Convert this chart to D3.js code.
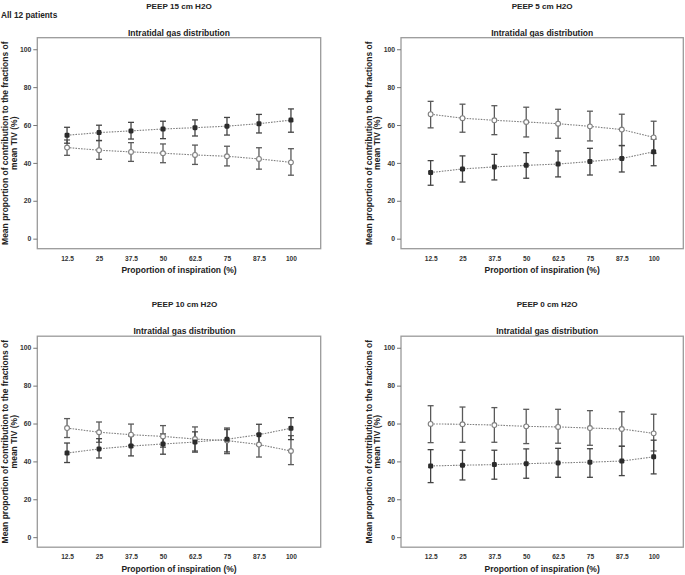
<!DOCTYPE html>
<html><head><meta charset="utf-8">
<script src="https://cdn.jsdelivr.net/npm/d3@7"></script>
<style>
body{margin:0;background:#fff}
svg{display:block}
text{font-family:"Liberation Sans",Arial,sans-serif;font-weight:bold;fill:#222}
</style>
</head><body>
<svg id="chart" width="685" height="575"></svg>
<script>
// ---- data ----
const categories = ["12.5","25","37.5","50","62.5","75","87.5","100"];
const yTicks = [0, 20, 40, 60, 80, 100];
const panelTitles = ["PEEP 15 cm H2O", "PEEP 5 cm H2O", "PEEP 10 cm H2O", "PEEP 0 cm H2O"];
const subTitle = "Intratidal gas distribution";
const topNote = "All 12 patients";
const xLabel = "Proportion of inspiration (%)";
const yLabelLines = ["Mean proportion of contribution to the fractions of", "mean TIV (%)"];

// PEEP 15
const peep15DarkMean = [54.6, 56.0, 56.9, 57.9, 58.6, 59.4, 60.7, 62.6];
const peep15DarkHigh = [58.8, 59.9, 61.4, 62.0, 62.7, 64.0, 65.6, 68.5];
const peep15DarkLow  = [50.4, 51.8, 52.6, 52.8, 54.2, 54.7, 55.8, 56.2];
const peep15OpenMean = [48.1, 46.7, 45.8, 45.1, 44.2, 43.5, 42.1, 40.3];
const peep15OpenHigh = [52.1, 51.8, 50.7, 50.0, 49.4, 48.8, 48.0, 47.5];
const peep15OpenLow  = [44.0, 41.9, 40.8, 40.1, 39.2, 38.4, 36.7, 33.5];
// PEEP 5
const peep5OpenMean = [65.7, 63.6, 62.5, 61.6, 60.7, 59.3, 57.6, 53.5];
const peep5OpenHigh = [72.5, 71.0, 70.2, 69.4, 68.3, 67.3, 65.7, 62.0];
const peep5OpenLow  = [58.5, 56.2, 54.9, 53.7, 53.0, 51.6, 49.1, 45.1];
const peep5DarkMean = [34.9, 36.8, 37.9, 38.7, 39.4, 40.7, 42.3, 45.9];
const peep5DarkHigh = [41.2, 43.7, 44.5, 45.4, 46.3, 47.7, 49.2, 52.6];
const peep5DarkLow  = [28.2, 29.9, 31.0, 31.9, 32.6, 33.6, 35.2, 38.5];
// PEEP 10
const peep10OpenMean = [57.6, 55.4, 54.1, 53.2, 51.8, 51.0, 48.9, 45.5];
const peep10OpenHigh = [62.6, 60.8, 59.7, 58.9, 58.2, 56.8, 54.5, 53.6];
const peep10OpenLow  = [52.6, 50.1, 48.5, 47.5, 45.5, 44.1, 42.3, 38.3];
const peep10DarkMean = [44.4, 46.6, 48.1, 49.2, 50.2, 51.7, 54.1, 57.5];
const peep10DarkHigh = [49.7, 52.0, 53.5, 54.5, 55.6, 57.6, 59.6, 63.1];
const peep10DarkLow  = [39.4, 41.8, 42.9, 43.8, 44.9, 45.0, 48.5, 51.5];
// PEEP 0
const peep0OpenMean = [59.8, 59.6, 59.2, 58.5, 58.2, 57.6, 57.1, 54.8];
const peep0OpenHigh = [69.4, 68.7, 68.4, 67.5, 67.5, 66.8, 66.2, 64.9];
const peep0OpenLow  = [49.9, 50.1, 50.1, 49.4, 49.6, 48.5, 48.0, 45.5];
const peep0DarkMean = [37.6, 38.0, 38.3, 38.8, 39.2, 39.6, 40.2, 42.4];
const peep0DarkHigh = [46.2, 45.9, 45.9, 46.6, 46.9, 46.7, 48.0, 51.2];
const peep0DarkLow  = [28.8, 30.2, 30.6, 31.1, 31.6, 31.6, 32.5, 33.4];

// ---- layout ----
const panels = [
  {title: panelTitles[0], x0: 37.3, x1: 320.7, y0: 37.7, titleDx: 0,
   dark: [peep15DarkMean, peep15DarkLow, peep15DarkHigh], open: [peep15OpenMean, peep15OpenLow, peep15OpenHigh], note: true},
  {title: panelTitles[1], x0: 401, x1: 683.3, y0: 37.7, titleDx: 0,
   dark: [peep5DarkMean, peep5DarkLow, peep5DarkHigh], open: [peep5OpenMean, peep5OpenLow, peep5OpenHigh]},
  {title: panelTitles[2], x0: 37.3, x1: 320.7, y0: 336.2, titleDx: 5.5,
   dark: [peep10DarkMean, peep10DarkLow, peep10DarkHigh], open: [peep10OpenMean, peep10OpenLow, peep10OpenHigh]},
  {title: panelTitles[3], x0: 401, x1: 683.3, y0: 336.2, titleDx: 5,
   dark: [peep0DarkMean, peep0DarkLow, peep0DarkHigh], open: [peep0OpenMean, peep0OpenLow, peep0OpenHigh]}
];
const frameH = 211;

const svg = d3.select("#chart");

panels.forEach(p => {
  const g = svg.append("g");
  const y1 = p.y0 + frameH;
  const x = d3.scalePoint().domain(categories).range([p.x0, p.x1]).padding(0.93);
  const y = d3.scaleLinear().domain([-5.3, 106.1]).range([y1, p.y0]);
  const cx = (p.x0 + p.x1) / 2;

  // titles
  g.append("text").attr("x", cx + p.titleDx).attr("y", p.y0 - 29.2)
    .attr("text-anchor", "middle").style("font-size", "8.1px").text(p.title);
  g.append("text").attr("x", cx + p.titleDx).attr("y", p.y0 - 2.2)
    .attr("text-anchor", "middle").style("font-size", "8.5px").text(subTitle);
  if (p.note) {
    g.append("text").attr("x", 1).attr("y", 17.6).style("font-size", "8.3px").text(topNote);
  }

  // frame
  g.append("rect").attr("x", p.x0).attr("y", p.y0).attr("width", p.x1 - p.x0).attr("height", frameH)
    .attr("fill", "none").attr("stroke", "#9a9a9a").attr("stroke-width", 1.3);

  // y axis
  const ya = g.append("g").attr("transform", `translate(${p.x0},0)`)
    .call(d3.axisLeft(y).tickValues(yTicks).tickSize(4).tickPadding(2));
  ya.select(".domain").remove();
  ya.selectAll("line").attr("stroke", "#777");
  ya.selectAll("text").style("font-size", "6.8px").style("fill", "#333")
    .style("font-family", '"Liberation Sans",Arial,sans-serif').style("font-weight", "bold");

  // x axis
  const xa = g.append("g").attr("transform", `translate(0,${y1})`)
    .call(d3.axisBottom(x).tickSize(0).tickPadding(0));
  xa.select(".domain").remove();
  xa.selectAll("text").attr("y", 12.3).attr("dy", 0).style("font-size", "6.6px").style("fill", "#333")
    .style("font-family", '"Liberation Sans",Arial,sans-serif').style("font-weight", "bold");

  // axis labels
  g.append("text").attr("x", cx).attr("y", y1 + 24.3).attr("text-anchor", "middle")
    .style("font-size", "8.5px").text(xLabel);
  const cy = p.y0 + frameH / 2;
  yLabelLines.forEach((t, i) => {
    g.append("text").attr("transform", `translate(${p.x0 - 29.5 + i * 8.7},${cy}) rotate(-90)`)
      .attr("text-anchor", "middle").style("font-size", "8.5px").text(t);
  });

  const idx = d3.range(categories.length);
  const line = arr => d3.line().x(i => x(categories[i])).y(i => y(arr[i]))(idx);

  // connecting dotted lines
  [p.open[0], p.dark[0]].forEach(arr => {
    g.append("path").attr("d", line(arr)).attr("fill", "none")
      .attr("stroke", "#808080").attr("stroke-width", 1.1).attr("stroke-dasharray", "1.6,1.2");
  });

  // error bars
  const drawErr = (s, color) => {
    const eb = g.append("g").attr("stroke", color).attr("stroke-width", 1.3).attr("fill", "none");
    idx.forEach(i => {
      const xx = x(categories[i]);
      eb.append("line").attr("x1", xx).attr("x2", xx).attr("y1", y(s[1][i])).attr("y2", y(s[2][i]));
      eb.append("line").attr("x1", xx - 3).attr("x2", xx + 3).attr("y1", y(s[1][i])).attr("y2", y(s[1][i]));
      eb.append("line").attr("x1", xx - 3).attr("x2", xx + 3).attr("y1", y(s[2][i])).attr("y2", y(s[2][i]));
    });
  };
  drawErr(p.open, "#5a5a5a");
  drawErr(p.dark, "#444");

  // markers
  g.append("g").selectAll("circle").data(idx).join("circle")
    .attr("cx", i => x(categories[i])).attr("cy", i => y(p.open[0][i])).attr("r", 2.4)
    .attr("fill", "#fff").attr("stroke", "#7f7f7f").attr("stroke-width", 1.1);
  g.append("g").selectAll("rect").data(idx).join("rect")
    .attr("x", i => x(categories[i]) - 2.5).attr("y", i => y(p.dark[0][i]) - 2.5)
    .attr("width", 5).attr("height", 5).attr("rx", 1.3)
    .attr("fill", "#2b2b2b");
});
</script>
</body></html>
